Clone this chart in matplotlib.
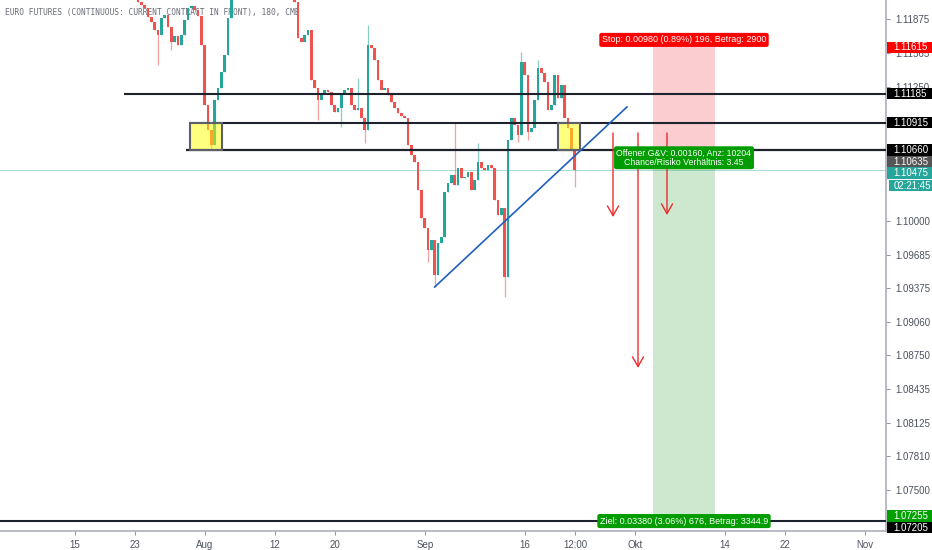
import numpy as np
import matplotlib
matplotlib.use("Agg")
import matplotlib.pyplot as plt
from matplotlib.patches import Rectangle

plt.rcParams['font.family'] = ['Liberation Sans', 'DejaVu Sans']

# ---- values --------------------------------------------------------------
title = "EURO FUTURES (CONTINUOUS: CURRENT CONTRACT IN FRONT), 180, CME"

origin = "2019-07-15"            # x axis counts trading days from here
first_bar = ("2019-07-23", 7.2)  # date / hour of first visible bar
bars_per_day = 3
first_open = 1.12100
closes = [
    1.12037, 1.12009, 1.11982, 1.11898, 1.11851, 1.11777, 1.11730, 1.11889,
    1.11916, 1.11805, 1.11665, 1.11721, 1.11637, 1.11730, 1.11870, 1.11982,
    1.12000, 1.11963, 1.11907, 1.11637, 1.11079, 1.10847, 1.10707, 1.11126,
    1.11237, 1.11386, 1.11544, 1.11889, 1.12103, 1.12196, 1.12242, 1.12335,
    1.12289, 1.12382, 1.12428, 1.12335, 1.12475, 1.12409, 1.12335, 1.12447,
    1.12382, 1.12316, 1.12335, 1.12261, 1.12289, 1.12196, 1.12149, 1.12037,
    1.11703, 1.11665, 1.11730, 1.11777, 1.11312, 1.11237, 1.11126, 1.11191,
    1.11219, 1.11200, 1.11079, 1.11014, 1.11051, 1.11191, 1.11219, 1.11237,
    1.11079, 1.11033, 1.11051, 1.10958, 1.10847, 1.11637, 1.11610, 1.11498,
    1.11312, 1.11219, 1.11237, 1.11172, 1.11107, 1.11051, 1.11005, 1.10977,
    1.10958, 1.10707, 1.10614, 1.10549, 1.10289, 1.10028, 1.09935, 1.09730,
    1.09824, 1.09498, 1.09796, 1.09851, 1.10270, 1.10354, 1.10428, 1.10335,
    1.10493, 1.10400, 1.10410, 1.10456, 1.10289, 1.10382, 1.10549, 1.10493,
    1.10470, 1.10521, 1.10493, 1.10196, 1.10056, 1.10121, 1.09479, 1.10754,
    1.10958, 1.10893, 1.10800, 1.11479, 1.11358, 1.10828, 1.10865, 1.11126,
    1.11423, 1.11377, 1.11293, 1.11033, 1.11079, 1.11358, 1.11144, 1.11265,
    1.10958, 1.10865, 1.10661, 1.10475,
]
# bars with a visible wick beyond the body
wick_high = {47: 1.12150, 66: 1.11330, 69: 1.11823, 95: 1.10921, 102: 1.10726,
             115: 1.11572, 120: 1.11498}
wick_low = {6: 1.11451, 10: 1.11591, 22: 1.10661, 54: 1.10940, 61: 1.10874,
            68: 1.10726, 87: 1.09619, 89: 1.09386, 110: 1.09293, 114: 1.10735,
            117: 1.10754, 131: 1.10316}

resistance = 1.11185
zone_top = 1.10915
zone_bottom = 1.10660
bottom_level = 1.07205
entry = 1.10635
stop = 1.11615
target = 1.07255
last_price = 1.10475
countdown = "02:21:45"

stop_text = "Stop: 0.00980 (0.89%) 196, Betrag: 2900"
open_text = "Offener G&V: 0.00160, Anz: 10204\nChance/Risiko Verhältnis: 3.45"
target_text = "Ziel: 0.03380 (3.06%) 676, Betrag: 3344.9"

ytick_vals = [1.11875, 1.11565, 1.11250, 1.10000, 1.09685, 1.09375, 1.09060,
              1.08750, 1.08435, 1.08125, 1.07810, 1.07500]
xtick_dates = ["2019-07-15", "2019-07-23", "2019-08-01", "2019-08-12",
               "2019-08-20", "2019-09-02", "2019-09-16", "2019-09-23",
               "2019-10-01", "2019-10-14", "2019-10-22", "2019-11-01"]
xtick_labels = ["15", "23", "Aug", "12", "20", "Sep", "16", "12:00",
                "Okt", "14", "22", "Nov"]

UP = "#26a69a"
DN = "#ef5350"
LINE = "#1e222d"


def tday(date, hour=0.0):
    return np.busday_count(origin, date) + hour / 24


# ---- figure ---------------------------------------------------------------
W, H = 932, 550
fig = plt.figure(figsize=(W / 100, H / 100), dpi=100)
ax = fig.add_axes([0, 19 / H, 886 / W, 531 / H])
ax.set_xlim(-7.5, 81.1)
ax.set_ylim(1.07116, 1.12056)
ppx = (1.12056 - 1.07116) / 531   # price per pixel

for s in ("left", "top"):
    ax.spines[s].set_visible(False)
for s in ("right", "bottom"):
    ax.spines[s].set_color("#b2b5be")
    ax.spines[s].set_linewidth(1.3)
ax.yaxis.tick_right()
ax.tick_params(length=3, width=0.8, color="#9598a1", labelsize=7,
               labelcolor="#4c525e")
ax.set_yticks(ytick_vals, [f"{v:.5f}" for v in ytick_vals])
ax.set_xticks([tday(d) for d in xtick_dates], xtick_labels)

ax.text(5 / 886, 1 - 12 / 531, title, transform=ax.transAxes, va="center",
        fontfamily="DejaVu Sans Mono", fontsize=5.7, color="#6a6d78", zorder=1)

# ---- candles --------------------------------------------------------------
c = np.array(closes)
o = np.r_[first_open, c[:-1]]
hi = np.maximum(o, c)
lo = np.minimum(o, c)
for i, v in wick_high.items():
    hi[i] = max(hi[i], v)
for i, v in wick_low.items():
    lo[i] = min(lo[i], v)
x0 = tday(*first_bar)
xs = x0 + np.arange(len(c)) / bars_per_day
cols = np.where(c >= o, UP, DN)
ax.vlines(xs, lo, hi, colors=cols, lw=0.9, alpha=0.55, zorder=3)
ax.bar(xs, c - o, bottom=o, width=0.28, color=cols, lw=0, zorder=3)

ax.axhline(last_price, color=UP, lw=0.7, alpha=0.4, zorder=2)

# ---- drawings -------------------------------------------------------------
ax.hlines(resistance, 4.9, 90, color=LINE, lw=1.5, zorder=4)
ax.hlines(zone_top, 11.5, 90, color=LINE, lw=1.5, zorder=4)
ax.hlines(zone_bottom, 11.1, 90, color=LINE, lw=1.6, zorder=4)
ax.axhline(bottom_level, color=LINE, lw=1.5, zorder=4)

for xa, xb in [(11.5, 14.7), (48.3, 50.5)]:
    ax.add_patch(Rectangle((xa, zone_bottom), xb - xa, zone_top - zone_bottom,
                           facecolor=(1, 1, 0, 0.5), edgecolor="#5d606b",
                           lw=1.5, zorder=5))

# trend line from the September low
ax.plot([xs[89], 55.2], [lo[89], 1.11061], color="#1e5fbf", lw=1.2, zorder=5)

# red arrows
arrow_color = "#ee2b2b"
for xa, yend in [(53.8, 1.10037), (56.3, 1.08633), (59.2, 1.10056)]:
    ax.annotate("", xy=(xa, yend), xytext=(xa, 1.10819),
                arrowprops=dict(arrowstyle="->,head_length=0.7,head_width=0.4",
                                color=arrow_color, lw=1.0,
                                shrinkA=0, shrinkB=0), zorder=6)

# short position tool
px0, px1 = 57.8, 64.0
ax.add_patch(Rectangle((px0, entry), px1 - px0, stop - entry,
                       facecolor="#f23645", alpha=0.25, lw=0, zorder=2))
ax.add_patch(Rectangle((px0, target), px1 - px0, entry - target,
                       facecolor="#4caf50", alpha=0.28, lw=0, zorder=2))
pmid = (px0 + px1) / 2
box = dict(boxstyle="round,pad=0.28,rounding_size=0.25", lw=0)
ax.text(pmid, stop + 3 * ppx, stop_text, ha="center", va="bottom",
        fontsize=6.5, color="white", zorder=9,
        bbox=dict(box, facecolor="#ff0000"))
ax.text(pmid, entry - 5 * ppx, open_text, ha="center", va="center",
        fontsize=6.3, color="white", linespacing=1.0, zorder=9,
        bbox=dict(box, facecolor="#009c00"))
ax.text(pmid, target - 0.5 * ppx, target_text, ha="center", va="top",
        fontsize=6.5, color="white", zorder=9,
        bbox=dict(box, facecolor="#009c00"))

# ---- price labels on the right axis ----------------------------------------
labels = [(stop, "#ff0000"), (resistance, "black"), (zone_top, "black"),
          (zone_bottom, "black"), (entry, "#555555"), (last_price, UP),
          (target, "#00a000"), (bottom_level, "black")]
labels.sort(key=lambda t: -t[0])
tr = ax.get_yaxis_transform()
box_h = 11.5 * ppx
prev = None
for price, col in labels:
    ypos = price
    if prev is not None and prev - ypos < box_h:
        ypos = prev - box_h
    prev = ypos
    ax.add_patch(Rectangle((1.0012, ypos - box_h / 2), 46 / 886, box_h,
                           transform=tr, clip_on=False, facecolor=col,
                           lw=0, zorder=10))
    ax.text(1 + 7 / 886, ypos, f"{price:.5f}", transform=tr, va="center",
            ha="left", fontsize=7, color="white", zorder=11, clip_on=False)
    if price == last_price:
        yc = ypos - box_h - 1 * ppx
        ax.add_patch(Rectangle((1 + 3 / 886, yc - box_h / 2), 43 / 886, box_h,
                               transform=tr, clip_on=False, facecolor=UP,
                               lw=0, zorder=10))
        ax.text(1 + 8 / 886, yc, countdown, transform=tr, va="center",
                ha="left", fontsize=7, color="white", zorder=11,
                clip_on=False)

fig.savefig("out.png", dpi=100)
